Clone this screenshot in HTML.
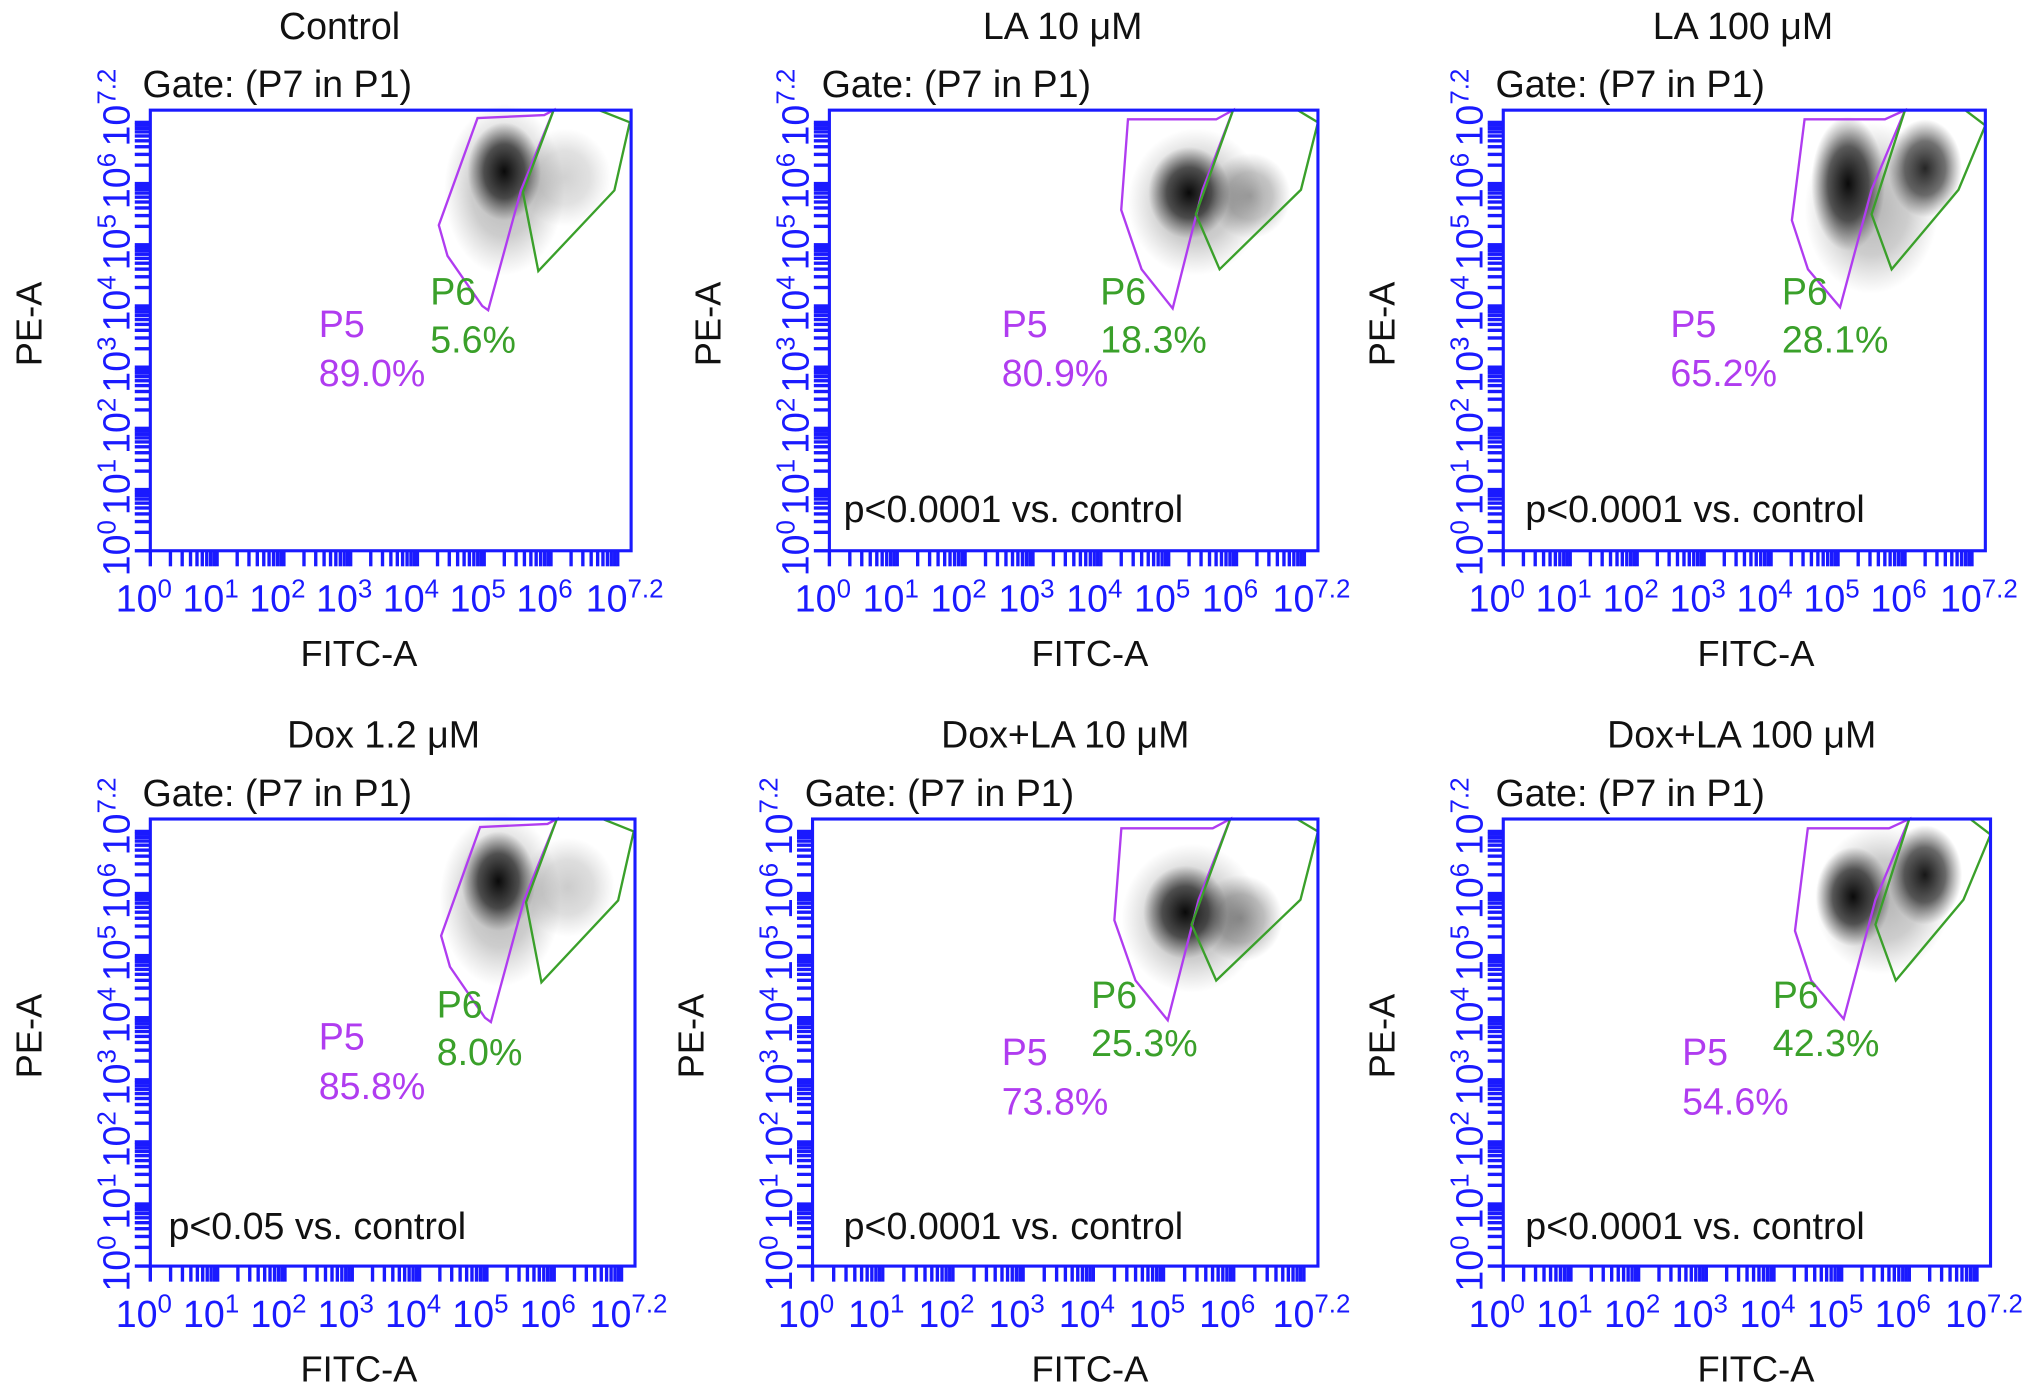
<!DOCTYPE html>
<html><head><meta charset="utf-8"><style>
html,body{margin:0;padding:0;background:#fff;}
svg{display:block;font-family:"Liberation Sans",Arial,sans-serif;}
</style></head><body>
<svg id="fig" width="2032" height="1394" viewBox="0 0 1568 1075.7" preserveAspectRatio="none" xmlns="http://www.w3.org/2000/svg">
<defs>
<radialGradient id="blob"><stop offset="0" stop-color="#000" stop-opacity="1"/><stop offset="0.55" stop-color="#111" stop-opacity="0.7"/><stop offset="1" stop-color="#333" stop-opacity="0"/></radialGradient>
</defs>
</svg>
<script>
const titles = ["Control","LA 10 \u03bcM","LA 100 \u03bcM","Dox 1.2 \u03bcM","Dox+LA 10 \u03bcM","Dox+LA 100 \u03bcM"];
const titleX = [262,820,1345,296,822,1344];
const xTitleX = [277,841,1355,277,841,1355];
const p5Values = ["89.0%","80.9%","65.2%","85.8%","73.8%","54.6%"];
const p6Values = ["5.6%","18.3%","28.1%","8.0%","25.3%","42.3%"];
const pTexts = ["","p<0.0001 vs. control","p<0.0001 vs. control","p<0.05 vs. control","p<0.0001 vs. control","p<0.0001 vs. control"];
const xTickLabels = ["0","1","2","3","4","5","6","7.2"];
const xTickValues = [0,1,2,3,4,5,6,7.2];
const axisMax = 7.2;
const magentaGates = [
 [[4.9,7.07],[5.9,7.12],[6.04,7.2],[5.55,5.89],[5.06,3.93],[4.97,4.0],[4.45,4.82],[4.32,5.32]],
 [[4.4,7.05],[5.7,7.05],[5.95,7.2],[5.5,5.9],[5.06,3.96],[4.6,4.6],[4.3,5.57]],
 [[4.5,7.05],[5.7,7.05],[6.0,7.2],[5.5,5.9],[5.03,3.98],[4.55,4.6],[4.31,5.4]],
 [[4.9,7.07],[5.9,7.12],[6.04,7.2],[5.55,5.89],[5.06,3.93],[4.97,4.0],[4.45,4.82],[4.32,5.32]],
 [[4.4,7.05],[5.7,7.05],[5.95,7.2],[5.5,5.9],[5.06,3.96],[4.6,4.6],[4.3,5.57]],
 [[4.5,7.05],[5.7,7.05],[6.0,7.2],[5.5,5.9],[5.03,3.98],[4.55,4.6],[4.31,5.4]]
];
const greenGates = [
 [[6.04,7.2],[6.72,7.2],[7.18,7.0],[6.95,5.89],[5.81,4.57],[5.58,5.86]],
 [[5.95,7.2],[6.9,7.2],[7.2,7.0],[6.95,5.9],[5.75,4.6],[5.4,5.5]],
 [[6.0,7.2],[6.9,7.2],[7.2,6.95],[6.8,5.9],[5.8,4.6],[5.5,5.5]],
 [[6.04,7.2],[6.72,7.2],[7.18,7.0],[6.95,5.89],[5.81,4.57],[5.58,5.86]],
 [[5.95,7.2],[6.9,7.2],[7.2,7.0],[6.95,5.9],[5.75,4.6],[5.4,5.5]],
 [[6.0,7.2],[6.9,7.2],[7.2,6.95],[6.8,5.9],[5.8,4.6],[5.5,5.5]]
];
// clusters: [cx, cy, rx, ry, opacity] in log units
const clusters = [
 [[5.3,5.9,0.9,1.4,0.3],[6.2,6.1,0.7,0.8,0.18],[5.3,6.2,0.55,0.8,0.95]],
 [[5.4,5.7,1.0,1.2,0.3],[6.2,5.8,0.6,0.7,0.35],[5.3,5.85,0.6,0.75,0.95]],
 [[5.5,5.6,1.0,1.4,0.3],[5.15,6.0,0.55,1.1,0.95],[6.3,6.25,0.55,0.8,0.85]],
 [[5.2,5.9,0.9,1.4,0.3],[6.2,6.1,0.7,0.8,0.2],[5.17,6.2,0.55,0.8,0.95]],
 [[5.4,5.6,1.0,1.2,0.3],[6.1,5.6,0.6,0.7,0.4],[5.31,5.7,0.6,0.75,0.95]],
 [[5.6,5.9,1.0,1.2,0.3],[5.17,5.95,0.55,0.8,0.95],[6.23,6.3,0.55,0.8,0.9]]
];
const boxes = [[116,85,487,425],[640,85,1017,425],[1160,85,1532,425],[116,632,490,977],[627,632,1017,977],[1160,632,1536,977]];
const labelOffsets = [[130,165,216,140],[133,165,209,140],[129,165,215,140],[130,168,221,143],[146,180,215,136],[138,180,208,136]];
const pOffsets = [[11,308],[11,308],[17,308],[14,314],[24,314],[17,314]];

const NS="http://www.w3.org/2000/svg";
const svg=document.getElementById('fig');
function mk(tag,attrs,parent){const e=document.createElementNS(NS,tag);for(const k in attrs)e.setAttribute(k,attrs[k]);(parent||svg).appendChild(e);return e;}
const BLUE="#1a1aff", MAG="#b03cf0", GRN="#3aa02a";

boxes.forEach((b,i)=>{
  const [l,t,r,bt]=b, w=r-l, h=bt-t;
  const sx=v=>l+v/axisMax*w, sy=v=>bt-v/axisMax*h;
  const g=mk('g',{});
  
  
  const tt=mk('text',{x:titleX[i],y:t-55,'text-anchor':'middle','font-size':29,fill:'#111'},g);
  tt.textContent=titles[i];
  
  
  const gt=mk('text',{x:l-6,y:t-10,'font-size':29,fill:'#111'},g);
  gt.textContent="Gate: (P7 in P1)";
  
  
  clusters[i].forEach(c=>{
    const e=mk('ellipse',{cx:sx(c[0]),cy:sy(c[1]),rx:c[2]/axisMax*w,ry:c[3]/axisMax*h,fill:'url(#blob)',opacity:c[4]},g);
    
    
  });
  [[magentaGates[i],MAG,'gate-p5'],[greenGates[i],GRN,'gate-p6']].forEach(([pts,col,nm])=>{
    const p=mk('polygon',{points:pts.map(q=>sx(q[0]).toFixed(1)+','+sy(q[1]).toFixed(1)).join(' '),fill:'none',stroke:col,'stroke-width':1.8},g);
    
    
  });
  const bx=mk('rect',{x:l,y:t,width:w,height:h,fill:'none',stroke:BLUE,'stroke-width':2.4},g);
  
  
  const tk=mk('g',{stroke:BLUE,'stroke-width':2.6},g);
  
  
  for(let d=0;d<8;d++){for(let k=1;k<10;k++){const v=d+Math.log10(k);if(v>axisMax)continue;
    mk('line',{x1:sx(v),x2:sx(v),y1:bt,y2:bt+12},tk);
    mk('line',{x1:l,x2:l-12,y1:sy(v),y2:sy(v)},tk);}}
  xTickValues.forEach((v,j)=>{
    const tx=mk('text',{x:sx(v)-5,y:bt+47,'text-anchor':'middle','font-size':29,fill:BLUE},g);
    
    
    tx.innerHTML='10<tspan dy="-11" font-size="20">'+xTickLabels[j]+'</tspan>';
    const ty=mk('text',{x:0,y:0,'text-anchor':'middle','font-size':29,fill:BLUE,transform:'translate('+(l-16)+','+(sy(v)-2)+') rotate(-90)'},g);
    
    
    ty.innerHTML='10<tspan dy="-11" font-size="20">'+xTickLabels[j]+'</tspan>';
  });
  const xa=mk('text',{x:xTitleX[i],y:bt+89,'text-anchor':'middle','font-size':28,fill:'#111'},g);
  xa.textContent="FITC-A";
  
  
  const ya=mk('text',{x:0,y:0,'text-anchor':'middle','font-size':28,fill:'#111',transform:'translate('+(l-84)+','+((t+bt)/2-5)+') rotate(-90)'},g);
  ya.textContent="PE-A";
  
  
  const o=labelOffsets[i];
  [[o[0],o[1],'P5',MAG,'p5-label'],[o[0],o[1]+38,p5Values[i],MAG,'p5-percent'],[o[2],o[3],'P6',GRN,'p6-label'],[o[2],o[3]+37,p6Values[i],GRN,'p6-percent']].forEach(s=>{
    const e=mk('text',{x:l+s[0],y:t+s[1]+10,'font-size':29,fill:s[3]},g);
    e.textContent=s[2];
    
    
  });
  if(pTexts[i]){
    const pt=mk('text',{x:l+pOffsets[i][0],y:t+pOffsets[i][1]+10,'font-size':29,fill:'#111'},g);
    pt.textContent=pTexts[i];
    
    
  }
});
</script>
</body></html>
